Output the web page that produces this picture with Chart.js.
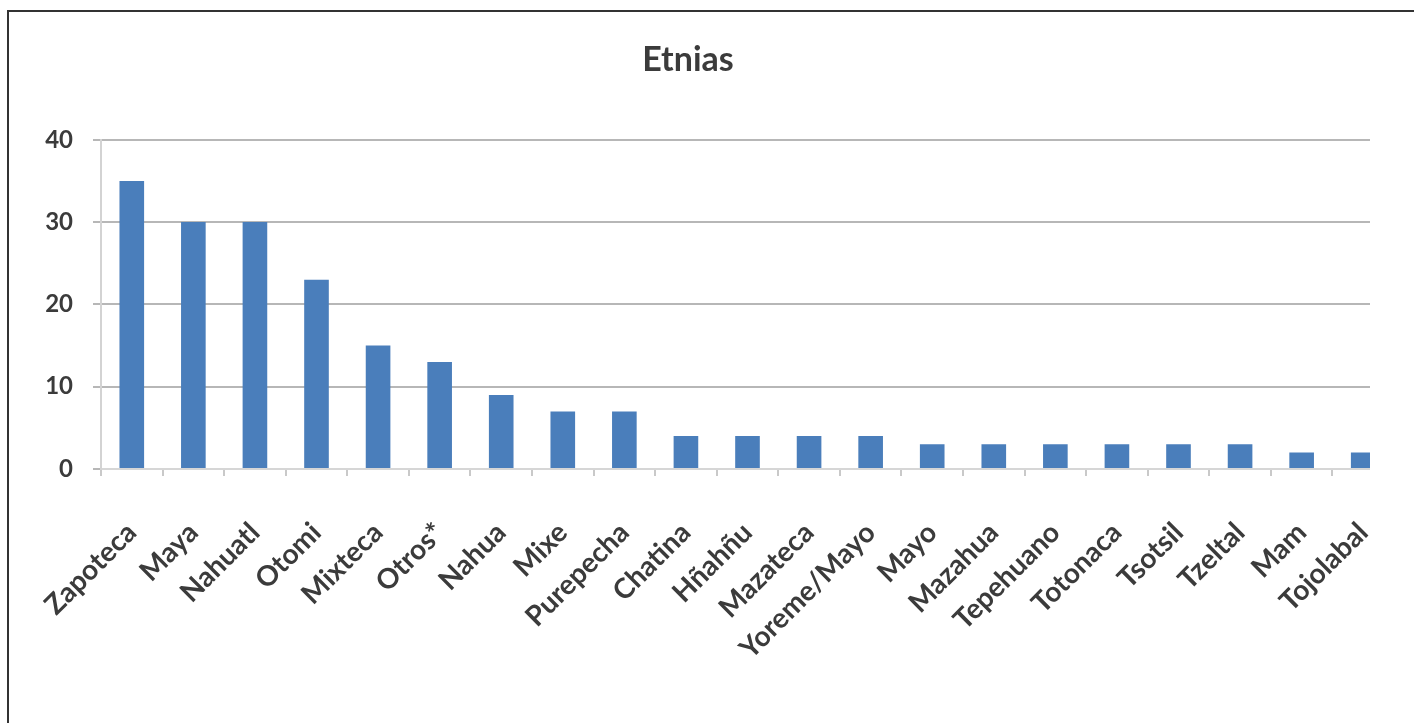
<!DOCTYPE html>
<html>
<head>
<meta charset="utf-8">
<script src="https://cdn.jsdelivr.net/npm/chart.js@4"></script>
<style>
  html, body { margin: 0; padding: 0; background: #fff; }
  #page { position: relative; width: 1414px; height: 723px; overflow: hidden; background: #fff; }
  #frame {
    position: absolute; left: 7px; top: 10px; width: 1410px; height: 720px;
    border-left: 2px solid #333; border-top: 2px solid #333;
    pointer-events: none; z-index: 2;
  }
  #clip { position: absolute; left: 0; top: 0; width: 1370px; height: 723px; overflow: hidden; }
  #etniasChart { position: absolute; left: -18px; top: 0; }
</style>
</head>
<body>
<div id="page">
  <div id="clip">
    <canvas id="etniasChart" width="1412" height="723"></canvas>
  </div>
  <div id="frame"></div>
</div>
<script>
// categories and counts
const etnias = ["Zapoteca", "Maya", "Nahuatl", "Otomi", "Mixteca", "Otros*", "Nahua", "Mixe",
  "Purepecha", "Chatina", "Hñahñu", "Mazateca", "Yoreme/Mayo", "Mayo", "Mazahua", "Tepehuano",
  "Totonaca", "Tsotsil", "Tzeltal", "Mam", "Tojolabal"];
const cantidades = [35, 30, 30, 23, 15, 13, 9, 7, 7, 4, 4, 4, 4, 3, 3, 3, 3, 3, 3, 2, 2];
const yTicks = [0, 10, 20, 30, 40];

const textColor = "#3b3b3b";
const fontFamily = "Lato, 'Open Sans', 'DejaVu Sans', sans-serif";

new Chart("etniasChart", {
  type: "bar",
  data: {
    labels: etnias,
    datasets: [{
      label: "Etnias",
      data: cantidades,
      backgroundColor: "#4a7ebb",
      borderWidth: 0,
      categoryPercentage: 1.0,
      barPercentage: 0.4
    }]
  },
  options: {
    responsive: false,
    animation: false,
    devicePixelRatio: 1,
    layout: { padding: 0 },
    plugins: {
      legend: { display: false },
      tooltip: { enabled: false },
      title: {
        display: true,
        text: "Etnias",
        color: textColor,
        font: { family: fontFamily, size: 34, weight: "bold" },
        padding: { top: 40, bottom: 59 }
      }
    },
    scales: {
      x: {
        grid: {
          display: true,
          drawOnChartArea: false,
          offset: true,
          tickLength: 7,
          color: "#c9c9c9",
          lineWidth: 2
        },
        border: { display: true, color: "#d6d6d6", width: 2 },
        ticks: {
          autoSkip: false,
          minRotation: 45,
          maxRotation: 45,
          padding: 40,
          color: textColor,
          font: { family: fontFamily, size: 28, weight: "bold" }
        },
        afterFit(scale) {
          // keep the plot running to the canvas edge
          scale.height = 723 - 469;
          scale.paddingLeft = 0;
          scale.paddingRight = 0;
        }
      },
      y: {
        min: 0,
        max: 40,
        afterBuildTicks(scale) { scale.ticks = yTicks.map(v => ({ value: v })); },
        grid: {
          color: "#b7b7b7",
          lineWidth: 2,
          tickLength: 8
        },
        border: { display: true, color: "#d3d3d3", width: 2 },
        ticks: {
          padding: 20,
          color: textColor,
          font: { family: fontFamily, size: 24, weight: "bold" }
        },
        afterFit(scale) {
          scale.width = 119;
          scale.paddingTop = 0;
          scale.paddingBottom = 0;
        }
      }
    }
  }
});
</script>
</body>
</html>
